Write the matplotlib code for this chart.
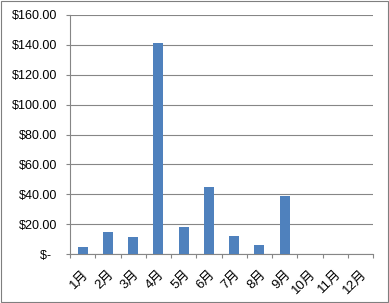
import matplotlib

matplotlib.use("Agg")
import matplotlib.pyplot as plt
from matplotlib.patches import Rectangle
import numpy as np

months = ["1月", "2月", "3月", "4月", "5月", "6月", "7月", "8月", "9月", "10月", "11月", "12月"]
values = [4.7, 14.7, 11.4, 141.3, 18.1, 44.9, 12.0, 6.0, 38.8, 0, 0, 0]
yticks = [0, 20, 40, 60, 80, 100, 120, 140, 160]
ytick_labels = ["$-  ", "$20.00", "$40.00", "$60.00", "$80.00", "$100.00", "$120.00", "$140.00", "$160.00"]

plt.rcParams["font.family"] = ["Liberation Sans", "Noto Sans CJK JP"]

fig = plt.figure(figsize=(3.89, 3.03), dpi=100)
ax = fig.add_axes([70 / 389, 49 / 303, 303 / 389, 239 / 303])

grid_c = "#868686"
x = np.arange(len(months))
ax.bar(x, values, width=0.4, color="#4F81BD", zorder=3)

ax.set_xlim(-0.5, len(months) - 0.5)
ax.set_ylim(0, 160)
ax.set_yticks(yticks)
ax.set_yticklabels(ytick_labels, fontsize=9)
ax.yaxis.grid(True, color=grid_c, linewidth=0.8, zorder=0)

# category boundaries carry the tick marks, labels sit at the centres
ax.set_xticks(np.arange(-0.5, len(months), 1.0), minor=True)
ax.set_xticks(x)
ax.set_xticklabels(months, fontsize=9.5, rotation=45, ha="right", va="top", rotation_mode="anchor")
ax.tick_params(axis="x", which="major", length=0, pad=10)
ax.tick_params(axis="x", which="minor", length=3, color=grid_c, width=0.8)
ax.tick_params(axis="y", length=3, color=grid_c, width=0.8, pad=6)

for side in ["top", "right"]:
    ax.spines[side].set_visible(False)
for side in ["left", "bottom"]:
    ax.spines[side].set_color(grid_c)
    ax.spines[side].set_linewidth(0.8)

fig.patches.append(Rectangle((0.002, 0.003), 0.995, 0.994, transform=fig.transFigure,
                             fill=False, edgecolor="#7f7f7f", linewidth=0.8))

fig.savefig("out.png", dpi=100)
